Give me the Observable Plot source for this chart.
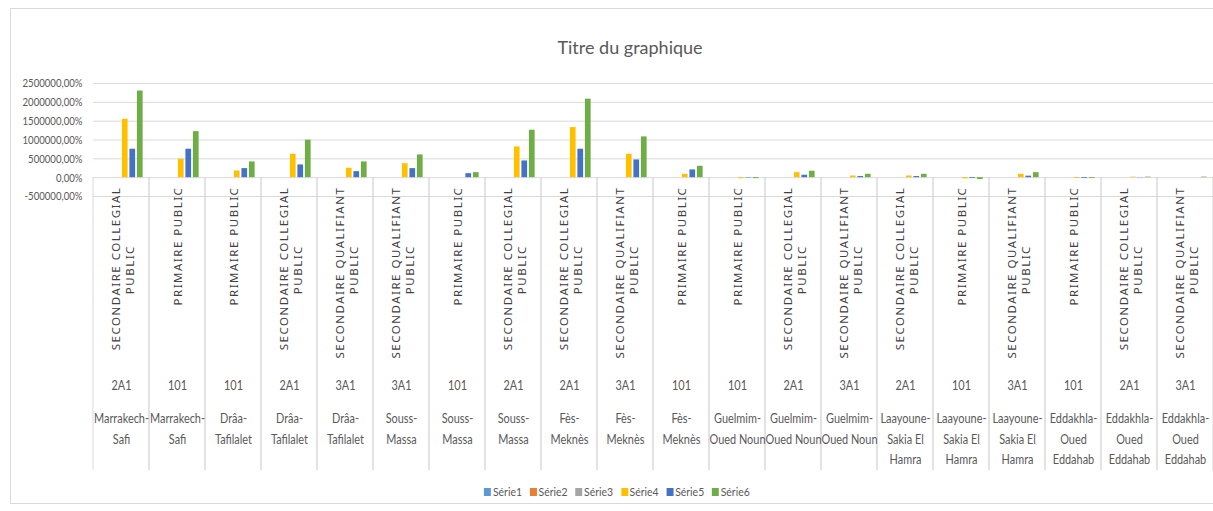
<!DOCTYPE html>
<html>
<head>
<meta charset="utf-8">
<script src="https://cdn.jsdelivr.net/npm/d3@7"></script>
<script src="https://cdn.jsdelivr.net/npm/@observablehq/plot@0.6"></script>
<style>
html, body { margin: 0; padding: 0; background: #fff; overflow: hidden; width: 1213px; height: 511px; }
#box { position: absolute; left: 10px; top: 8px; width: 1240px; height: 496px; border: 1px solid #d9d9d9; box-sizing: border-box; }
#title { position: absolute; left: 430px; width: 400px; top: 35px; text-align: center; font-family: Lato, "Open Sans", sans-serif; font-size: 18px; line-height: 24px; color: #595959; }
#chart { position: absolute; left: 0; top: 65px; }
#legend { position: absolute; left: 417px; width: 400px; top: 484px; display: flex; justify-content: center; gap: 9px; font-family: Lato, sans-serif; font-size: 12px; color: #595959; line-height: 16px; transform: scaleX(0.87); transform-origin: 200px 50%; }
#legend .item { display: flex; align-items: center; gap: 2px; }
#legend .sw { width: 8px; height: 8px; display: inline-block; }
</style>
</head>
<body>
<div id="box"></div>
<div id="title">Titre du graphique</div>
<div id="chart"></div>
<div id="legend"></div>
<script>
const series = ["Série1", "Série2", "Série3", "Série4", "Série5", "Série6"];
const colors = ["#5B9BD5", "#ED7D31", "#A5A5A5", "#FFC000", "#4472C4", "#70AD47"];

const regions = ["Marrakech-Safi", "Marrakech-Safi", "Drâa-Tafilalet", "Drâa-Tafilalet", "Drâa-Tafilalet",
  "Souss-Massa", "Souss-Massa", "Souss-Massa", "Fès-Meknès", "Fès-Meknès", "Fès-Meknès",
  "Guelmim-Oued Noun", "Guelmim-Oued Noun", "Guelmim-Oued Noun",
  "Laayoune-Sakia El Hamra", "Laayoune-Sakia El Hamra", "Laayoune-Sakia El Hamra",
  "Eddakhla-Oued Eddahab", "Eddakhla-Oued Eddahab", "Eddakhla-Oued Eddahab"];
const codes = ["2A1", "101", "101", "2A1", "3A1", "3A1", "101", "2A1", "2A1", "3A1", "101",
  "101", "2A1", "3A1", "2A1", "101", "3A1", "101", "2A1", "3A1"];
const levels = ["SECONDAIRE COLLEGIAL PUBLIC", "PRIMAIRE PUBLIC", "PRIMAIRE PUBLIC", "SECONDAIRE COLLEGIAL PUBLIC",
  "SECONDAIRE QUALIFIANT PUBLIC", "SECONDAIRE QUALIFIANT PUBLIC", "PRIMAIRE PUBLIC", "SECONDAIRE COLLEGIAL PUBLIC",
  "SECONDAIRE COLLEGIAL PUBLIC", "SECONDAIRE QUALIFIANT PUBLIC", "PRIMAIRE PUBLIC", "PRIMAIRE PUBLIC",
  "SECONDAIRE COLLEGIAL PUBLIC", "SECONDAIRE QUALIFIANT PUBLIC", "SECONDAIRE COLLEGIAL PUBLIC", "PRIMAIRE PUBLIC",
  "SECONDAIRE QUALIFIANT PUBLIC", "PRIMAIRE PUBLIC", "SECONDAIRE COLLEGIAL PUBLIC", "SECONDAIRE QUALIFIANT PUBLIC"];

const serie1 = [0, 0, 0, 0, 0, 0, 0, 0, 0, 0, 0, 0, 0, 0, 0, 0, 0, 0, 0, 0];
const serie2 = [0, 0, 0, 0, 0, 0, 0, 0, 0, 0, 0, 0, 0, 0, 0, 0, 0, 0, 0, 0];
const serie3 = [0, 0, 0, 0, 0, 0, 0, 0, 0, 0, 0, 0, 0, 0, 0, 0, 0, 0, 0, 0];
const serie4 = [1550000, 490000, 178000, 622000, 250000, 372000, 0, 816000, 1330000, 622000,
  90000, -25000, 133000, 45000, 45000, -30000, 90000, -20000, 15000, 0];
const serie5 = [755000, 755000, 240000, 338000, 160000, 240000, 106000, 444000, 755000, 470000,
  205000, -10000, 64000, 30000, 30000, -20000, 40000, -20000, 5000, 0];
const serie6 = [2300000, 1223000, 418000, 995000, 418000, 604000, 133000, 1260000, 2085000, 1082000,
  303000, -25000, 170000, 90000, 90000, -50000, 133000, -20000, 15000, 15000];

const yTicks = [-500000, 0, 500000, 1000000, 1500000, 2000000, 2500000];

// ---- build tables ----
const values = [serie1, serie2, serie3, serie4, serie5, serie6];
const ids = regions.map((_, i) => i);
const rows = [];
values.forEach((arr, s) => arr.forEach((v, i) => rows.push({id: i, series: series[s], value: v})));

function wrapRegion(name, max = 9) {
  const tokens = [];
  name.split(" ").forEach((w, wi) => {
    const parts = w.split(/(?<=-)/);
    parts.forEach((p, pi) => tokens.push({t: p, sep: (pi === 0 && wi > 0) ? " " : ""}));
  });
  const lines = [];
  let cur = "";
  tokens.forEach(({t, sep}) => {
    if (cur === "") cur = t;
    else if ((cur + sep + t).length <= max) cur = cur + sep + t;
    else { lines.push(cur); cur = t; }
  });
  if (cur) lines.push(cur);
  return lines.join("\n");
}
function levelLines(l) {
  const w = l.split(" ");
  return w.length > 2 ? [w.slice(0, -1).join(" "), w[w.length - 1]] : [l];
}
const cats = ids.map(i => ({id: i, region: wrapRegion(regions[i]), code: codes[i], lines: levelLines(levels[i])}));
const twoLine = cats.filter(d => d.lines.length === 2);
const oneLine = cats.filter(d => d.lines.length === 1);

const font = "Lato, 'Open Sans', sans-serif";
const levelFont = "'Noto Sans', 'DejaVu Sans', sans-serif";
const grey = "#595959";
const levelStyle = {rotate: -90, fontSize: 11.5, fontFamily: levelFont, fill: "#404040", ariaDescription: "level"};

const plot = Plot.plot({
  width: 1213,
  height: 407,
  marginTop: 18,
  marginBottom: 276,
  marginLeft: 93,
  marginRight: 0,
  style: {fontFamily: font, fontSize: "12px", color: grey, background: "transparent", overflow: "visible"},
  fx: {domain: ids, padding: 0, axis: null},
  x: {domain: series, paddingInner: 0.24, paddingOuter: 0.85, round: false, axis: null},
  y: {domain: [-500000, 2500000], ticks: yTicks, tickFormat: d => `${d},00%`, tickSize: 0, tickPadding: 11, label: null},
  color: {domain: series, range: colors},
  marks: [
    Plot.ruleY(yTicks, {stroke: "#d9d9d9"}),
    Plot.rect(cats, {fx: "id", y1: 0, y2: -500000, insetBottom: -274, stroke: "#d9d9d9", fill: "none",
      strokeDasharray: "0 56 293 56 293"}),
    Plot.barY(rows, {fx: "id", x: "series", y: "value", fill: "series"}),
    Plot.text(twoLine, {fx: "id", y: 0, text: d => d.lines[0], textAnchor: "end", dy: 9, dx: -5, ...levelStyle}),
    Plot.text(twoLine, {fx: "id", y: 0, text: d => d.lines[1], textAnchor: "middle", dy: 92, dx: 9, ...levelStyle}),
    Plot.text(oneLine, {fx: "id", y: 0, text: d => d.lines[0], textAnchor: "end", dy: 9, dx: 1, ...levelStyle}),
    Plot.text(cats, {fx: "id", y: 0, text: "code", dy: 208, fontSize: 13, fontFamily: font, fill: grey, ariaDescription: "code"}),
    Plot.text(cats, {fx: "id", y: 0, text: "region", dy: 231, lineAnchor: "top", lineHeight: 1.58,
      fontSize: 13, fontFamily: font, fill: grey, ariaDescription: "region"})
  ]
});
document.getElementById("chart").appendChild(plot);

// horizontal squeeze to mimic the narrow Calibri face of the original
function squeeze(nodes, k) {
  nodes.forEach(node => {
    const t = node.getAttribute("transform");
    if (t) node.setAttribute("transform", t + ` scale(${k},1)`);
    else {
      const x = +(node.getAttribute("x") || 0);
      node.setAttribute("x", x / k);
      node.setAttribute("transform", `scale(${k},1)`);
    }
  });
}
const allText = Array.from(plot.querySelectorAll("text"));
squeeze(Array.from(plot.querySelectorAll('g[aria-description="region"] text, g[aria-description="code"] text')), 0.84);
squeeze(allText.filter(t => /%$/.test(t.textContent)), 0.8);
plot.querySelectorAll('g[aria-description="level"] text').forEach(t => t.setAttribute("letter-spacing", "1.5"));

const legend = document.getElementById("legend");
series.forEach((s, i) => {
  const item = document.createElement("span");
  item.className = "item";
  const sw = document.createElement("span");
  sw.className = "sw";
  sw.style.background = colors[i];
  item.appendChild(sw);
  item.appendChild(document.createTextNode(s));
  legend.appendChild(item);
});
</script>
</body>
</html>
